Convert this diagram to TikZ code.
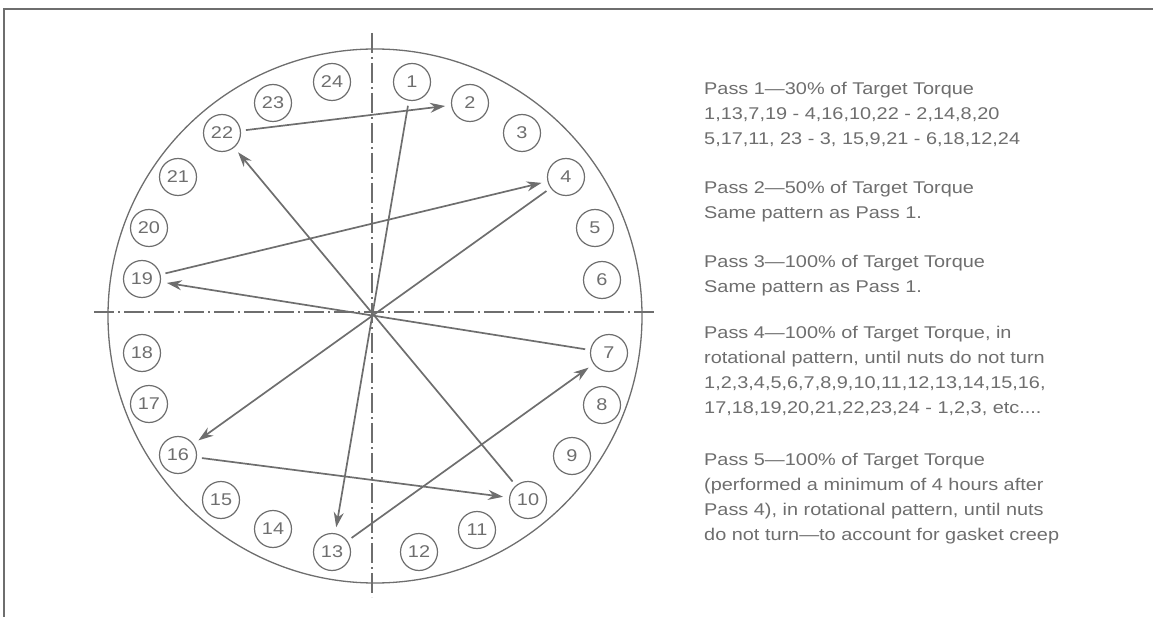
\documentclass[tikz,border=0pt]{standalone}
\usepackage{fontspec}
\newfontfamily\boltfont[Ligatures=TeX, FakeStretch=1.17]{Liberation Sans}
\usetikzlibrary{arrows.meta}
\definecolor{ink}{gray}{0.43}
\tikzset{
  bolt/.style={draw=ink, circle, line width=1.2pt, minimum size=37pt, inner sep=0pt,
    text=ink, font=\boltfont\fontsize{17}{20}\selectfont},
  pass/.style={draw=ink, line width=1.7pt, -{Stealth[length=15pt,width=10pt]},
    shorten <=5pt, shorten >=6pt},
  centerline/.style={draw=ink, line width=1.2pt, dash pattern=on 20pt off 4pt on 2pt off 4pt},
  note/.style={anchor=north west, inner sep=0pt, align=left, text=ink,
    font=\boltfont\fontsize{17}{25}\selectfont}
}

\begin{document}
\begin{tikzpicture}[x=1pt,y=-1pt]
\useasboundingbox (0,0) rectangle (1153,617);
\def\rflange{267}
\coordinate (hub) at (375,316);

\draw[ink, line width=1.5pt] (1153,9) -- (4,9) -- (4,617);
\draw[ink, line width=1.3pt] (hub) circle[radius=\rflange];

\draw[centerline] (372,33) -- (372,597);
\draw[centerline] (94,312) -- (654,312);

\foreach \n/\px/\py in {1/412/82, 2/470/103, 3/522/133, 4/566/177, 5/595/228, 6/602/280,
    7/609/353, 8/602/405, 9/572/456, 10/528/500, 11/477/530, 12/419/552,
    13/332/552, 14/273/529, 15/221/500, 16/178/455, 17/149/404, 18/142/353,
    19/142/279, 20/149/228, 21/178/177, 22/222/133, 23/273/103, 24/332/82}
  \node[bolt] (b\n) at (\px,\py) {\n};

\foreach \a/\b in {1/13, 13/7, 7/19, 19/4, 4/16, 16/10, 10/22, 22/2}
  \draw[pass] (b\a) -- (b\b);

\node[note] (p1) at (704,82) {Pass 1---30\% of Target Torque\\
  1,13,7,19 - 4,16,10,22 - 2,14,8,20\\
  5,17,11, 23 - 3, 15,9,21 - 6,18,12,24};
\node[note] (p2) at (704,181) {Pass 2---50\% of Target Torque\\
  Same pattern as Pass 1.};
\node[note] (p3) at (704,255) {Pass 3---100\% of Target Torque\\
  Same pattern as Pass 1.};
\node[note] (p4) at (704,326) {Pass 4---100\% of Target Torque, in\\
  rotational pattern, until nuts do not turn\\
  1,2,3,4,5,6,7,8,9,10,11,12,13,14,15,16,\\
  17,18,19,20,21,22,23,24 - 1,2,3, etc....};
\node[note] (p5) at (704,453) {Pass 5---100\% of Target Torque\\
  (performed a minimum of 4 hours after\\
  Pass 4), in rotational pattern, until nuts\\
  do not turn---to account for gasket creep};
\end{tikzpicture}
\end{document}
